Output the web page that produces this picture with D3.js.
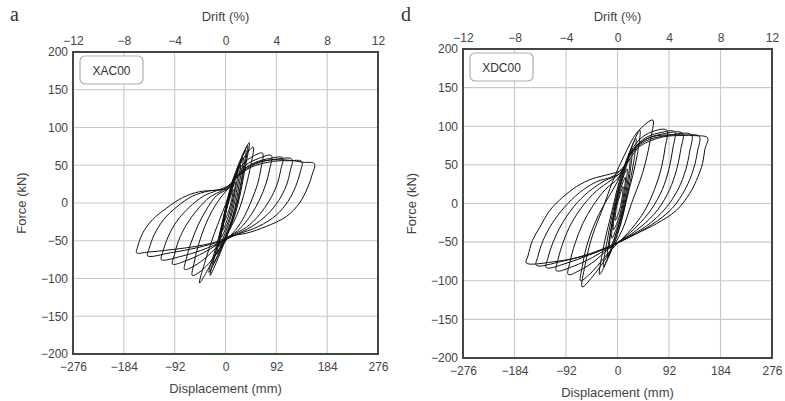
<!DOCTYPE html>
<html>
<head>
<meta charset="utf-8">
<script src="https://cdn.jsdelivr.net/npm/d3@7"></script>
<style>
  body { margin: 0; background: #fff; }
  text { font-family: "Liberation Sans", Arial, sans-serif; }
</style>
</head>
<body>
<script>
// tick values
var dispTicks = [-276, -184, -92, 0, 92, 184, 276];
var driftTicks = [-12, -8, -4, 0, 4, 8, 12];
var forceTicks = [-200, -150, -100, -50, 0, 50, 100, 150, 200];

// specimen XAC00 - loops, [displacement mm, force kN]
var loopsXAC = [
  [[14,18],[11,4],[5,-12],[-2,-24],[1,-10],[8,6]],
  [[18,28],[14,8],[6,-16],[-5,-36],[0,-14],[8,10]],
  [[22,38],[17,14],[8,-18],[-8,-46],[-2,-20],[9,12]],
  [[27,50],[22,24],[10,-18],[-12,-58],[-4,-28],[10,18]],
  [[32,60],[26,30],[12,-20],[-16,-68],[-6,-36],[12,22]],
  [[37,70],[31,40],[14,-18],[-22,-80],[-10,-44],[13,26]],
  [[43,80],[36,48],[16,-18],[-30,-92],[-14,-50],[14,30]],
  [[40,76],[34,46],[14,-20],[-28,-96],[-22,-76],[-12,-48],[12,28]],
  [[50,74],[44,44],[24,-10],[4,-40],[-20,-72],[-47,-106],[-38,-80],[-20,-40],[0,-2],[14,26],[30,56]],
  [[67,66],[64,45],[58,25],[48,5],[34,-18],[18,-36],[5,-46],[-12,-62],[-30,-80],[-48,-92],[-60,-96],[-57,-80],[-50,-58],[-38,-32],[-24,-10],[-8,8],[8,22],[18,38],[32,52],[50,62]],
  [[83,63],[80,45],[73,25],[62,5],[46,-16],[26,-34],[7,-45],[-15,-58],[-35,-72],[-56,-83],[-74,-88],[-71,-74],[-63,-54],[-50,-30],[-34,-8],[-16,10],[6,20],[18,36],[36,50],[60,59]],
  [[103,60],[100,44],[93,24],[80,4],[62,-15],[38,-32],[8,-44],[-15,-55],[-40,-66],[-70,-76],[-96,-81],[-93,-70],[-85,-50],[-70,-28],[-50,-8],[-28,8],[-5,17],[10,26],[28,42],[55,54],[80,59]],
  [[120,58],[117,42],[110,23],[96,3],[76,-15],[48,-31],[12,-44],[-15,-54],[-45,-63],[-82,-71],[-116,-75],[-113,-64],[-104,-45],[-88,-24],[-66,-6],[-40,9],[-14,17],[8,24],[25,38],[55,52],[90,58]],
  [[138,55],[135,40],[127,22],[113,2],[92,-16],[60,-31],[20,-42],[-10,-51],[-50,-59],[-100,-66],[-141,-70],[-138,-60],[-129,-42],[-112,-22],[-88,-5],[-60,9],[-30,16],[0,19],[18,32],[45,47],[85,55],[115,56]],
  [[161,52],[157,38],[149,21],[134,0],[110,-18],[74,-31],[38,-40],[7,-44],[-15,-51],[-50,-57],[-100,-62],[-140,-65],[-161,-66],[-159,-58],[-150,-40],[-132,-22],[-107,-7],[-78,7],[-47,15],[-16,17],[7,20],[20,35],[40,48],[70,56],[110,57],[140,54]]
];

// specimen XDC00
var loopsXDC = [
  [[10,22],[8,6],[3,-10],[-4,-22],[-2,-6],[4,10]],
  [[14,34],[11,12],[4,-15],[-7,-34],[-5,-12],[4,15]],
  [[17,45],[14,18],[4,-20],[-10,-45],[-7,-18],[4,20]],
  [[22,58],[18,28],[5,-22],[-14,-58],[-10,-28],[5,24]],
  [[26,70],[22,38],[6,-25],[-18,-70],[-13,-38],[6,28]],
  [[33,84],[28,50],[10,-10],[-25,-82],[-19,-50],[7,34]],
  [[40,95],[35,62],[18,10],[0,-40],[-32,-92],[-26,-60],[-10,-10],[8,40]],
  [[63,108],[58,80],[45,40],[25,0],[8,-35],[-20,-70],[-45,-95],[-63,-108],[-58,-80],[-45,-42],[-25,-4],[-8,30],[12,62],[35,92]],
  [[88,95],[85,72],[78,45],[66,18],[48,-10],[26,-32],[8,-46],[-14,-62],[-35,-80],[-52,-93],[-66,-100],[-63,-82],[-55,-55],[-42,-28],[-26,-4],[-8,18],[8,40],[20,62],[38,82],[62,93]],
  [[102,93],[99,72],[92,45],[80,18],[60,-8],[34,-30],[9,-46],[-15,-58],[-40,-74],[-66,-86],[-88,-92],[-85,-76],[-76,-52],[-62,-26],[-44,-3],[-22,18],[0,32],[12,48],[28,70],[50,85],[78,92]],
  [[116,91],[113,70],[106,45],[93,18],[72,-8],[42,-30],[9,-47],[-15,-57],[-45,-70],[-78,-81],[-109,-87],[-106,-72],[-97,-50],[-82,-25],[-62,-3],[-38,16],[-12,30],[8,42],[24,64],[48,82],[80,90]],
  [[132,89],[129,68],[122,44],[108,18],[85,-7],[52,-29],[9,-47],[-18,-57],[-52,-67],[-90,-77],[-127,-83],[-124,-70],[-115,-50],[-99,-26],[-78,-4],[-52,15],[-24,29],[6,40],[22,62],[48,80],[88,88]],
  [[146,87],[143,68],[136,45],[122,20],[98,-6],[62,-27],[9,-48],[-20,-57],[-58,-67],[-100,-75],[-145,-80],[-142,-68],[-133,-48],[-117,-26],[-95,-5],[-68,14],[-38,28],[-6,36],[16,52],[40,74],[80,86],[115,88]],
  [[161,85],[156,70],[152,52],[141,30],[129,13],[105,-9],[70,-26],[34,-39],[9,-48],[-20,-58],[-60,-68],[-110,-75],[-163,-77],[-160,-68],[-152,-48],[-139,-31],[-121,-9],[-98,8],[-73,22],[-45,32],[-14,38],[9,44],[20,60],[35,75],[60,86],[100,89],[135,88]]
];

var width = 785, height = 401;

var svg = d3.select('body').append('svg')
  .attr('width', width)
  .attr('height', height);

var panels = [
  { letter: 'a', name: 'XAC00', loops: loopsXAC, left: 73, right: 378, top: 52, bottom: 354, lx: 10 },
  { letter: 'd', name: 'XDC00', loops: loopsXDC, left: 463, right: 772, top: 49, bottom: 358, lx: 401 }
];

panels.forEach(drawPanel);

function drawPanel(p) {
  var x = d3.scaleLinear().domain([-276, 276]).range([p.left, p.right]);
  var xd = d3.scaleLinear().domain([-12, 12]).range([p.left, p.right]);
  var y = d3.scaleLinear().domain([-200, 200]).range([p.bottom, p.top]);

  var g = svg.append('g');

  // grid
  g.selectAll('.vg').data(dispTicks).enter().append('line')
    .attr('x1', function(d) { return x(d); }).attr('x2', function(d) { return x(d); })
    .attr('y1', p.top).attr('y2', p.bottom)
    .attr('stroke', '#cdc4cd').attr('stroke-width', 1.1);
  g.selectAll('.hg').data(forceTicks).enter().append('line')
    .attr('x1', p.left).attr('x2', p.right)
    .attr('y1', function(d) { return y(d); }).attr('y2', function(d) { return y(d); })
    .attr('stroke', '#cdc4cd').attr('stroke-width', 1.1);

  // hysteresis loops
  var line = d3.line()
    .x(function(d) { return x(d[0]); })
    .y(function(d) { return y(d[1]); })
    .curve(d3.curveCatmullRomClosed.alpha(0.5));

  g.selectAll('.loop').data(p.loops).enter().append('path')
    .attr('d', line)
    .attr('fill', 'none')
    .attr('stroke', '#111')
    .attr('stroke-width', 1);

  // frame
  g.append('rect')
    .attr('x', p.left).attr('y', p.top)
    .attr('width', p.right - p.left).attr('height', p.bottom - p.top)
    .attr('fill', 'none').attr('stroke', '#3d4a3d').attr('stroke-width', 2);

  // axes
  var bottom = g.append('g').attr('transform', 'translate(0,' + p.bottom + ')')
    .call(d3.axisBottom(x).tickValues(dispTicks).tickSize(0).tickPadding(8));
  var topAx = g.append('g').attr('transform', 'translate(0,' + p.top + ')')
    .call(d3.axisTop(xd).tickValues(driftTicks).tickSize(0).tickPadding(7));
  var leftAx = g.append('g').attr('transform', 'translate(' + p.left + ',0)')
    .call(d3.axisLeft(y).tickValues(forceTicks).tickSize(0).tickPadding(5));

  [bottom, topAx, leftAx].forEach(function(a) {
    a.select('.domain').remove();
    a.selectAll('text')
      .style('font-family', '"Liberation Sans", Arial, sans-serif')
      .style('font-size', '12px')
      .attr('fill', '#444');
  });

  var cx = (p.left + p.right) / 2;
  g.append('text').attr('x', cx).attr('y', 21)
    .attr('text-anchor', 'middle').attr('font-size', 13).attr('fill', '#444')
    .text('Drift (%)');
  g.append('text').attr('x', cx).attr('y', p.bottom + 39)
    .attr('text-anchor', 'middle').attr('font-size', 13).attr('fill', '#444')
    .text('Displacement (mm)');
  g.append('text')
    .attr('transform', 'translate(' + (p.left - 47) + ',' + ((p.top + p.bottom) / 2) + ') rotate(-90)')
    .attr('text-anchor', 'middle').attr('font-size', 13).attr('fill', '#444')
    .text('Force (kN)');

  // panel letter
  g.append('text').attr('x', p.lx).attr('y', 21)
    .style('font-family', '"Liberation Serif", "Times New Roman", serif')
    .attr('font-size', 20).attr('fill', '#333')
    .text(p.letter);

  // specimen label
  g.append('rect')
    .attr('x', p.left + 7).attr('y', p.top + 4)
    .attr('width', 63).attr('height', 28).attr('rx', 5)
    .attr('fill', '#fff').attr('stroke', '#b8a8b8').attr('stroke-width', 1.2);
  g.append('text')
    .attr('x', p.left + 38.5).attr('y', p.top + 23)
    .attr('text-anchor', 'middle').attr('font-size', 12).attr('fill', '#333')
    .text(p.name);
}
</script>
</body>
</html>
